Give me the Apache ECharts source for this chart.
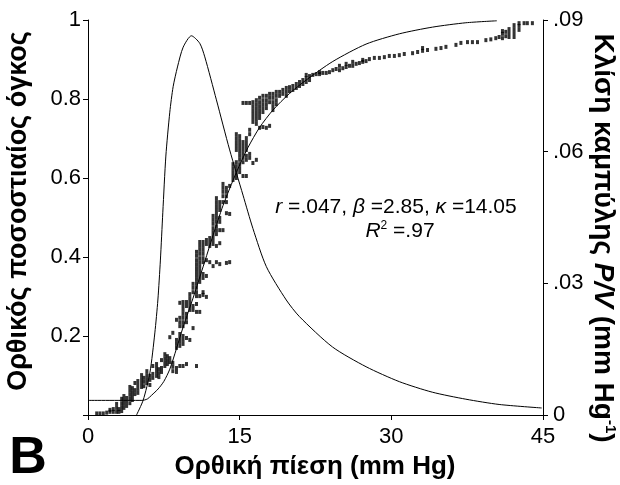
<!DOCTYPE html>
<html><head><meta charset="utf-8">
<script src="https://cdn.jsdelivr.net/npm/echarts@6/dist/echarts.min.js"></script>
<style>html,body{margin:0;padding:0;background:#fff}#c{width:620px;height:485px}</style>
</head><body><div id="c"></div>
<script>
// ---- tick labels ----
const xTicks = [0, 15, 30, 45];
const xTickLabels = ['0', '15', '30', '45'];
const leftTickLabels = ['', '0.2', '0.4', '0.6', '0.8', '1'];
const rightTickLabels = ['0', '.03', '.06', '.09'];

// ---- observed points: pressure columns and the volumes at each ----
const obsPressure = [0.86,1.18,1.51,1.85,2.17,2.50,2.83,3.06,3.33,3.55,3.82,4.14,4.39,4.64,4.93,5.30,5.53,5.82,6.12,6.41,6.78,7.01,7.27,7.60,7.85,8.09,8.39,8.75,9.08,9.40,9.74,10.07,10.39,10.73,11.05,11.38,11.71,12.04,12.37,12.70,13.03,13.35,13.69,14.01,14.34,14.67,15.00,15.33,15.66,15.99,16.31,16.65,16.97,17.30,17.64,17.96,18.29,18.62,18.95,19.27,19.61,19.93,20.26,20.60,20.92,21.25,21.58,21.91,22.23,22.57,22.90,23.22,23.56,23.88,24.21,24.54,24.87,25.20,25.53,25.86,26.18,26.52,26.84,27.17,27.50,27.83,28.32,28.82,29.31,29.80,30.30,30.79,31.28,32.10,32.60,33.09,33.58,34.41,34.91,35.40,36.39,36.88,37.53,38.02,38.52,39.35,39.84,40.33,40.66,40.99,41.32,41.64,42.14,42.63,43.13,43.45,43.95];
const obsVolume = [
[.004],[.004],[.004],[.006],[.008,.013],[.008,.015],[.008,.018,.028],[.008,.015],
[.010,.020,.030,.041],[.018,.028,.038,.048],[.023,.033,.043],[.030,.041,.051,.061,.071],
[.038,.048,.058,.068],[.053,.063,.081],[.056,.066,.076,.086],[.071,.081,.091,.101],
[.073,.084,.094],[.081,.091,.101,.111],[.076,.089,.099],[.094,.104,.124],
[.099,.109,.119,.129],[.096,.106,.116],[.109,.119,.139],[.124,.134,.144,.154],
[.129,.139,.149],[.134,.144,.197],[.111,.122,.132,.208],[.109,.119,.170,.180,.190,.241],
[.124,.175,.185,.195,.205,.225,.235,.246,.284],
[.124,.180,.190,.200,.225,.235,.246,.256,.266,.276,.286],
[.129,.195,.235,.246,.256,.276,.286],
[.190,.266,.276,.286,.296,.306],
[.220,.266,.276,.311,.322,.332],
[.124,.261,.281,.301,.311,.322,.332,.342,.352,.362,.372,.382,.392,.403,.413],
[.261,.301,.337,.347,.357,.367,.377,.387,.397,.408,.418,.428,.438],
[.304,.311,.347,.357,.387,.397,.408,.418,.428,.438],
[.299,.352,.392,.433,.443],
[.387,.428,.438,.448],
[.377,.433,.443,.453,.463,.473,.484,.494,.504],
[.387,.428,.458,.468,.478,.489,.499,.509,.519,.529,.539,.549],
[.382,.435,.468,.489,.499,.519,.529,.539],
[.468,.539,.554,.565,.575,.585],
[.385,.511,.539,.554,.565,.575],
[.387,.509,.580],
[.595,.605,.615,.625,.635],
[.600,.610,.620,.630,.640,.671,.681,.691,.701,.711],
[.615,.625,.635,.646,.656,.666,.676,.686,.696,.706],
[.605,.640,.651,.661,.671,.681,.691,.790],
[.605,.646,.656,.671,.681,.691,.701,.790],
[.651,.661,.711,.722,.790],
[.638,.742,.752,.762,.772,.782,.792],
[.646,.737,.747,.757,.767,.777,.787,.797],
[.727,.752,.762,.772,.782,.792,.803],
[.729,.767,.777,.787,.797,.808],
[.727,.777,.787,.797,.808],
[.732,.792,.803,.813],
[.772,.782,.792,.803,.813],
[.787,.797,.808,.818],
[.808,.818],[.813,.823],[.808,.818,.828],[.820,.830],[.823,.833],[.828,.838],
[.833,.843],[.838,.848],[.843,.853,.861],[.848,.858],[.861],[.863],[.863,.868],
[.866],[.866],[.868],[.873],[.876],[.873,.884],[.878],[.881,.889],[.884],[.884,.894],
[.889],[.891],[.894,.899],[.896],[.901],[.904],[.904],[.906],[.909],[.909],[.911],
[.914],[.916],[.919],[.922,.929],[.924],[.927],[.929],[.932],[.937],[.942],[.944],
[.944],[.944],[.949],[.951],[.954],[.957],[.954,.965,.972],[.959,.970],
[.957,.967,.977],[.957,.967,.977,.987],[.975,.985,.992],[.992],[.992],[.992]
];

// ---- fitted cumulative curve (left axis) ----
const fitPressure = [0,5.33,5.6,5.9,6.29,6.94,7.5,8.09,8.75,9.40,10.39,11.38,12.37,13.35,14.67,15.82,16.97,18.29,19.93,21.58,24.21,27.50,30.79,34.08,37.37,40.43];
const fitVolume   = [.037,.037,.038,.041,.050,.066,.085,.116,.168,.222,.296,.375,.455,.530,.614,.677,.728,.772,.814,.848,.895,.939,.965,.982,.993,.998];

// ---- slope of the P/V curve (right axis) ----
const slopePressure = [4.8,5.46,6.12,6.61,6.91,7.16,7.40,7.70,8.09,8.42,8.85,9.41,10.23,11.05,11.55,12.70,14.01,15.33,16.31,17.64,19.61,20.92,24.18,27.50,30.79,34.05,37.37,40.66,44.87];
const slopeValue    = [0,.0034,.0096,.0187,.0262,.0353,.0462,.0590,.0690,.0748,.0793,.0838,.0864,.0847,.0816,.0718,.0604,.0501,.0425,.0338,.0262,.0224,.0155,.0110,.0076,.0052,.0036,.0024,.0016];

const FONT = '"Liberation Sans", Arial, sans-serif';
const n = Math.min(obsPressure.length, obsVolume.length);
const obsData = [];
for (let i = 0; i < n; i++) obsVolume[i].forEach(v => obsData.push([obsPressure[i], v]));
const fitData = fitPressure.map((p, i) => [p, fitVolume[i]]);
const slopeData = slopePressure.map((p, i) => [p, slopeValue[i]]);

const axisBase = {
  axisLine: { show: true, onZero: false, lineStyle: { color: '#000', width: 1 } },
  axisTick: { show: true, length: 5, lineStyle: { color: '#000', width: 1 } },
  splitLine: { show: false }
};
const lbl = { color: '#000', fontSize: 22, fontFamily: FONT };

const chart = echarts.init(document.getElementById('c'));
chart.setOption({
  animation: false,
  backgroundColor: '#fff',
  grid: { left: 88, right: 77, top: 20, bottom: 70 },
  xAxis: Object.assign({
    type: 'value', min: 0, max: 45, interval: 15,
    axisLabel: Object.assign({ margin: 11, formatter: v => { const k = xTicks.indexOf(v); return k >= 0 ? xTickLabels[k] : ''; } }, lbl)
  }, axisBase),
  yAxis: [
    Object.assign({
      type: 'value', min: 0, max: 1, interval: 0.2, position: 'left',
      axisLabel: Object.assign({ margin: 7, formatter: v => leftTickLabels[Math.round(v / 0.2)] || '' }, lbl)
    }, axisBase),
    Object.assign({
      type: 'value', min: 0, max: 0.09, interval: 0.03, position: 'right',
      axisLabel: Object.assign({ margin: 10, formatter: v => rightTickLabels[Math.round(v / 0.03)] || '' }, lbl)
    }, axisBase)
  ],
  series: [
    { type: 'scatter', yAxisIndex: 0, data: obsData, symbol: 'rect', symbolSize: [3, 4],
      itemStyle: { color: '#000' }, z: 3 },
    { type: 'line', yAxisIndex: 0, data: fitData, showSymbol: false, smooth: 0.25,
      lineStyle: { color: '#000', width: 1 }, z: 2 },
    { type: 'line', yAxisIndex: 1, data: slopeData, showSymbol: false, smooth: 0.25,
      lineStyle: { color: '#000', width: 1 }, z: 2 }
  ],
  graphic: [
    { type: 'text', x: 396, y: 207, style: {
      text: '{i|r} =.047, {i|β} =2.85, {i|κ} =14.05',
      fontSize: 21, fontFamily: FONT, fill: '#000', align: 'center', verticalAlign: 'middle',
      rich: { i: { fontStyle: 'italic', fontSize: 21, fontFamily: FONT, fill: '#000' } } } },
    { type: 'text', x: 400, y: 231, style: {
      text: '{i|R}{s|2} =.97',
      fontSize: 21, fontFamily: FONT, fill: '#000', align: 'center', verticalAlign: 'middle',
      rich: { i: { fontStyle: 'italic', fontSize: 21, fontFamily: FONT, fill: '#000' },
              s: { fontSize: 12, fontFamily: FONT, fill: '#000', verticalAlign: 'top', lineHeight: 22 } } } },
    { type: 'text', x: 28, y: 459, style: {
      text: 'B', fontSize: 52, fontWeight: 'bold', fontFamily: FONT, fill: '#000', align: 'center', verticalAlign: 'middle' } },
    { type: 'text', x: 315, y: 467, style: {
      text: 'Ορθική πίεση (mm Hg)', fontSize: 26, fontWeight: 'bold', fontFamily: FONT, fill: '#000', align: 'center', verticalAlign: 'middle' } },
    { type: 'text', x: 19, y: 211, rotation: Math.PI / 2, style: {
      text: 'Ορθικός ποσοστιαίος όγκος', fontSize: 27, fontWeight: 'bold', fontFamily: FONT, fill: '#000', align: 'center', verticalAlign: 'middle' } },
    { type: 'text', x: 603, y: 238, rotation: -Math.PI / 2, style: {
      text: 'Κλίση καμπύλης {i|P/V} (mm Hg{s|-1})',
      fontSize: 28, fontWeight: 'bold', fontFamily: FONT, fill: '#000', align: 'center', verticalAlign: 'middle',
      rich: { i: { fontStyle: 'italic', fontWeight: 'bold', fontSize: 28, fontFamily: FONT, fill: '#000' },
              s: { fontSize: 15, fontWeight: 'bold', fontFamily: FONT, fill: '#000', verticalAlign: 'top', lineHeight: 29 } } } }
  ]
});
</script></body></html>
